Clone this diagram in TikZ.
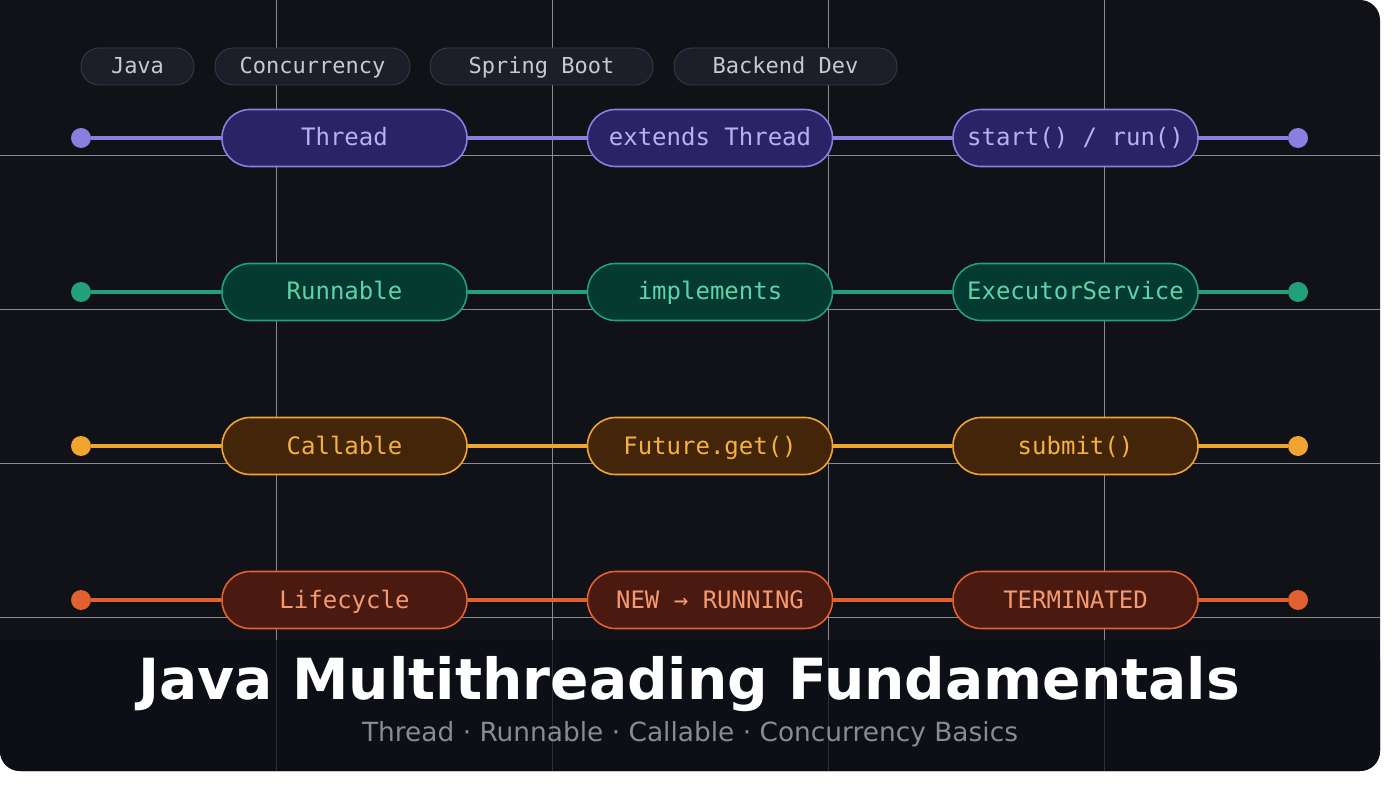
\documentclass[tikz,border=0pt]{standalone}
\usepackage{fontspec}
\setmainfont{DejaVu Sans}
\newfontfamily\mono{DejaVu Sans Mono}
\begin{document}
\begin{tikzpicture}[x=1pt,y=-1pt,
 pill/.style={rounded corners=28pt,line width=1.6pt,minimum width=245pt,minimum height=57pt,font=\mono\fontsize{24}{24}\selectfont,inner sep=0pt,text height=19pt,text depth=3pt},
 tag/.style={rounded corners=18pt,fill=tagf,draw=tagd,line width=0.8pt,minimum height=37pt,font=\mono\fontsize{22}{22}\selectfont,text=tagt,inner sep=0pt,text height=18pt,text depth=3pt},
 dot/.style={circle,minimum size=20pt,inner sep=0pt},
 grid/.style={draw=gridc,line width=0.9pt}]
\definecolor{bg}{HTML}{111217}
\definecolor{bot}{HTML}{0D0F16}
\definecolor{gridc}{HTML}{8A8A90}
\definecolor{tagf}{HTML}{1C1E2A}\definecolor{tagd}{HTML}{3A3C4A}\definecolor{tagt}{HTML}{C8C8D0}
\definecolor{pf}{HTML}{2A2466}\definecolor{ps}{HTML}{8B7EE0}\definecolor{pt}{HTML}{B8B0F0}
\definecolor{gf}{HTML}{053A30}\definecolor{gs}{HTML}{22A07A}\definecolor{gt}{HTML}{5FD3A8}
\definecolor{of}{HTML}{43260A}\definecolor{os}{HTML}{F0A530}\definecolor{ot}{HTML}{F5B040}
\definecolor{rf}{HTML}{4A1A10}\definecolor{rs}{HTML}{E06030}\definecolor{rt}{HTML}{F59A70}
\useasboundingbox (0,0) rectangle (1400,791);
\fill[white] (0,0) rectangle (1400,791);
\fill[bg,rounded corners=20pt] (-30,0) -- (1380,0) -- (1380,771) -- (0,771) -- (0,0) -- cycle;
\fill[bg] (0,0) rectangle (40,40);
\foreach \x in {276,552,828,1104}{\draw[grid] (\x,0) -- (\x,640);}
\foreach \y in {155,309,463,617}{\draw[grid] (0,\y) -- (1380,\y);}
\fill[bot,rounded corners=20pt] (0,640) -- (1380,640) -- (1380,771) -- (0,771) -- cycle;
\fill[bot] (0,640) rectangle (1380,680);
\foreach \x in {276,552,828,1104}{\draw[gridc!25!bot,line width=0.8pt] (\x,640) -- (\x,771);}
\node[tag,minimum width=113pt] (t1) at (137.5,66.5) {Java};
\node[tag,minimum width=195pt] (t2) at (312.5,66.5) {Concurrency};
\node[tag,minimum width=223pt] (t3) at (541.5,66.5) {Spring Boot};
\node[tag,minimum width=223pt] (t4) at (785.5,66.5) {Backend Dev};
\foreach \y/\f/\s/\t/\a/\b/\c/\n in {138/pf/ps/pt/Thread/extends Thread/{start() / run()}/p,
 292/gf/gs/gt/Runnable/implements/ExecutorService/g,
 446/of/os/ot/Callable/Future.get()/submit()/o,
 600/rf/rs/rt/Lifecycle/NEW → RUNNING/TERMINATED/r}{
 \node[dot,fill=\s] (\n L) at (81,\y) {};
 \node[dot,fill=\s] (\n R) at (1298,\y) {};
 \node[pill,fill=\f,draw=\s,text=\t] (\n 1) at (344.5,\y) {\a};
 \node[pill,fill=\f,draw=\s,text=\t] (\n 2) at (710,\y) {\b};
 \node[pill,fill=\f,draw=\s,text=\t] (\n 3) at (1075.5,\y) {\c};
 \draw[\s,line width=4pt] (\n L) -- (\n 1) (\n 1) -- (\n 2) (\n 2) -- (\n 3) (\n 3) -- (\n R);
}
\node[text=white,font=\bfseries\fontsize{56.7}{57}\selectfont] (title) at (689,684) {Java Multithreading Fundamentals};
\node[text=gridc,font=\fontsize{26.4}{27}\selectfont] (sub) at (690,734) {Thread · Runnable · Callable · Concurrency Basics};
\end{tikzpicture}
\end{document}
